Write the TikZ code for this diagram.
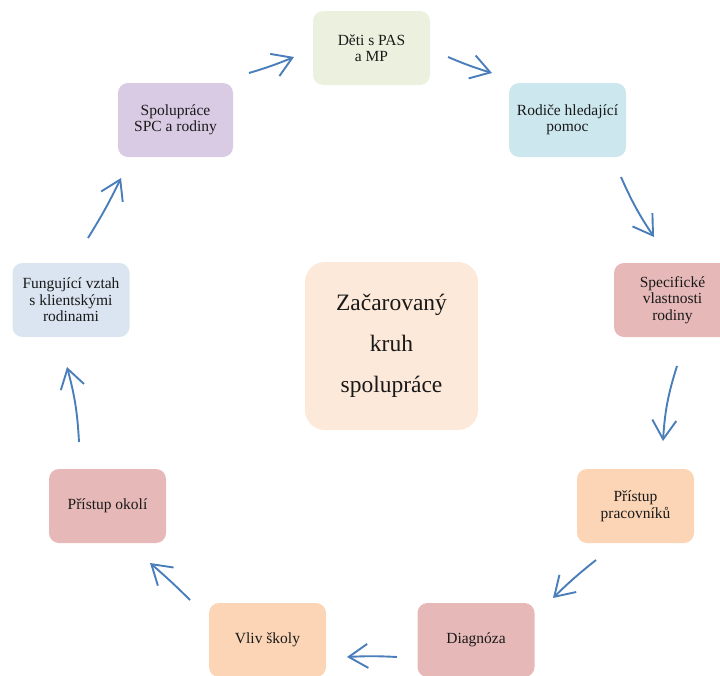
\documentclass[tikz,border=0pt]{standalone}
\usepackage{fontspec}
\setmainfont{Liberation Serif}
\usetikzlibrary{arrows.meta}
\definecolor{arrblue}{RGB}{74,126,187}
\definecolor{cGreen}{RGB}{235,241,222}
\definecolor{cBlue}{RGB}{204,232,238}
\definecolor{cPink}{RGB}{230,185,184}
\definecolor{cPeach}{RGB}{251,213,181}
\definecolor{cGray}{RGB}{219,229,241}
\definecolor{cLav}{RGB}{217,203,228}
\definecolor{cCenter}{RGB}{253,233,217}
\tikzset{
  box/.style={rectangle, rounded corners=10pt, minimum width=117pt, minimum height=74pt,
    inner sep=2pt, align=center, font=\fontsize{15.5}{16.5}\selectfont, text=black!90},
  bigbox/.style={rectangle, rounded corners=20pt, minimum width=173pt, minimum height=168pt,
    align=center, font=\fontsize{23.5}{41}\selectfont, text=black!90, fill=cCenter},
  flow/.style={draw=arrblue, line width=1.9pt, -{Straight Barb[length=19pt,width=24pt]}}
}
\begin{document}
\begin{tikzpicture}[x=1pt,y=-1pt]
\useasboundingbox (0,0) rectangle (720,675);
\clip (0,0) rectangle (720,675);
\node[box, fill=cGreen] (b1) at (371.5,48) {Děti s PAS\\a MP};
\node[box, fill=cBlue] (b2) at (567.5,120) {Rodiče hledající\\pomoc};
\node[box, fill=cPink] (b3) at (672.5,300) {Specifické\\vlastnosti\\rodiny};
\node[box, fill=cPeach] (b4) at (635.5,506) {Přístup\\pracovníků};
\node[box, fill=cPink] (b5) at (476,640) {Diagnóza};
\node[box, fill=cPeach] (b6) at (267.5,640) {Vliv školy};
\node[box, fill=cPink] (b7) at (107.5,506) {Přístup okolí};
\node[box, fill=cGray] (b8) at (71,300) {Fungující vztah\\s klientskými\\rodinami};
\node[box, fill=cLav, minimum width=115pt] (b9) at (175.5,120) {Spolupráce\\SPC a rodiny};
\node[bigbox] (c) at (391.5,346) {Začarovaný\\kruh\\spolupráce};

\coordinate (s1) at (249,73);  \coordinate (e1) at (294,57);
\coordinate (s2) at (448,57);  \coordinate (e2) at (492,73);
\coordinate (s3) at (621,177); \coordinate (e3) at (654,237);
\coordinate (s4) at (677,366); \coordinate (e4) at (663,441);
\coordinate (s5) at (596,560); \coordinate (e5) at (553,598);
\coordinate (s6) at (397,657); \coordinate (e6) at (347,657);
\coordinate (s7) at (190,600); \coordinate (e7) at (150,563);
\coordinate (s8) at (79,442);  \coordinate (e8) at (67,367);
\coordinate (s9) at (88,238);  \coordinate (e9) at (121,178);

\draw[flow] (s1) to[bend right=3] (e1);
\draw[flow] (s2) to[bend right=3] (e2);
\draw[flow] (s3) to[bend right=5] (e3);
\draw[flow] (s4) to[bend right=7] (e4);
\draw[flow] (s5) to[bend right=3] (e5);
\draw[flow] (s6) to[bend right=3] (e6);
\draw[flow] (s7) to[bend right=2] (e7);
\draw[flow] (s8) to[bend right=6] (e8);
\draw[flow] (s9) to[bend right=3] (e9);
\end{tikzpicture}
\end{document}
